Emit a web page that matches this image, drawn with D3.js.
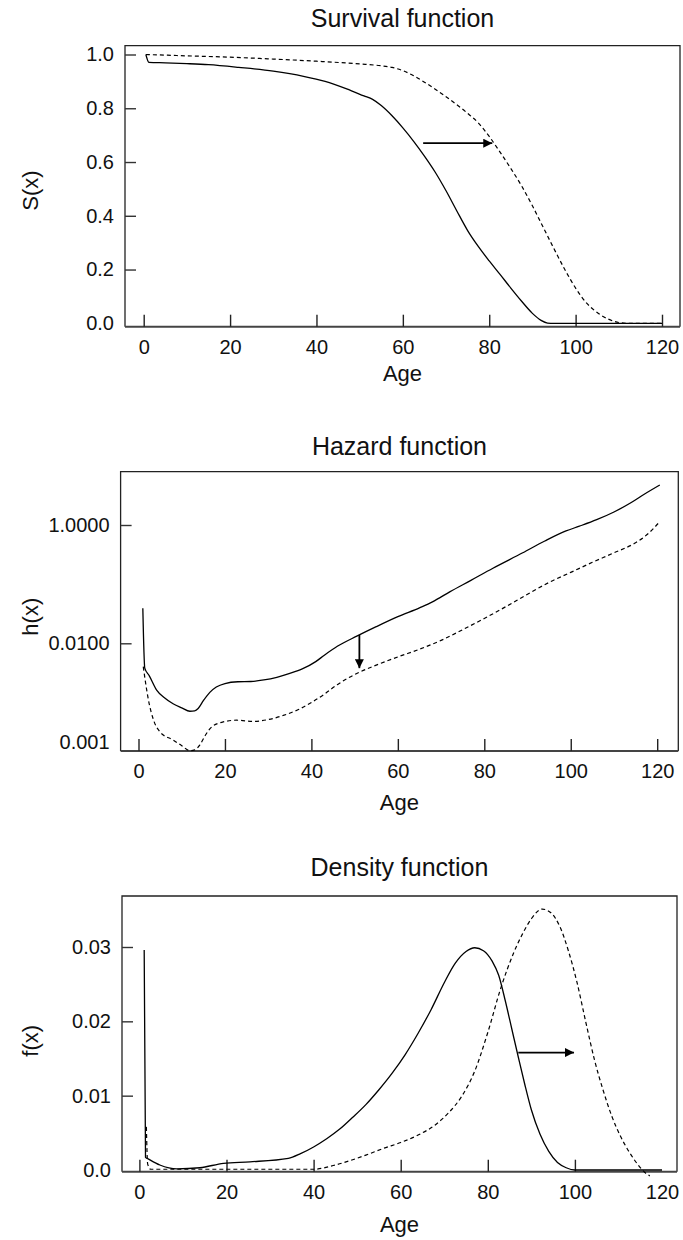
<!DOCTYPE html>
<html>
<head>
<meta charset="utf-8">
<script src="https://cdn.jsdelivr.net/npm/d3@7"></script>
<style>
  html, body { margin: 0; padding: 0; background: #fff; }
  svg { display: block; font-family: "Liberation Sans", Arial, Helvetica, sans-serif; }
</style>
</head>
<body>
<svg id="chart" width="683" height="1240"></svg>
<script>
// ---------------- data ----------------
const ageTicks = [0, 20, 40, 60, 80, 100, 120];
const ageTickLabels = ["0", "20", "40", "60", "80", "100", "120"];

// Survival function S(x): [age, S]
const survivalSolid = [[0.5,1.0],[1.2,0.971],[5,0.969],[10,0.966],[15,0.962],[22,0.952],[30,0.938],[37,0.919],[42,0.9],[47,0.872],[51,0.846],[53,0.833],[55,0.81],[57.5,0.772],[60,0.727],[62.5,0.677],[65,0.622],[67.5,0.562],[70,0.493],[72.5,0.418],[75,0.345],[77.5,0.285],[80,0.232],[82.5,0.182],[85,0.131],[87.5,0.082],[90,0.037],[92,0.011],[93.5,0.001],[95,0],[120,0]];
const survivalDashed = [[0.5,1.0],[10,0.995],[20,0.99],[30,0.983],[40,0.975],[50,0.965],[55,0.958],[57.5,0.952],[60,0.94],[62.5,0.921],[65,0.897],[67.5,0.871],[70,0.843],[72.5,0.813],[75,0.781],[77.5,0.745],[80,0.695],[82.5,0.637],[85,0.576],[87.5,0.511],[90,0.437],[92.5,0.357],[95,0.277],[97.5,0.2],[100,0.131],[102.5,0.076],[105,0.04],[107.5,0.016],[110,0.003],[112,0],[120,0]];
const survivalYTicks = [0, 0.2, 0.4, 0.6, 0.8, 1.0];
const survivalYLabels = ["0.0", "0.2", "0.4", "0.6", "0.8", "1.0"];
const survivalArrow = [[64.7, 0.67], [80.7, 0.67]];

// Hazard function h(x): [age, h]
const hazardSolid = [[1.0,0.0391],[1.45,0.0038],[2.5,0.00282],[4.2,0.00162],[6,0.0012],[8,0.00095],[10,0.00081],[11.9,0.00071],[13,0.00072],[13.8,0.00079],[15,0.00107],[16.5,0.00148],[18,0.00182],[20,0.00209],[23,0.00224],[26,0.00226],[29,0.0024],[32,0.00266],[35,0.00309],[38,0.00372],[41,0.0049],[43,0.0063],[46,0.0089],[50.5,0.0132],[55,0.0191],[60,0.0282],[65,0.0398],[68,0.0501],[72,0.0741],[76.8,0.115],[82,0.186],[88.9,0.339],[94,0.537],[98.9,0.794],[102,0.955],[106,1.23],[110,1.66],[114,2.4],[117,3.31],[120.6,4.74]];
const hazardDashed = [[1.1,0.00403],[2.3,0.0011],[3.5,0.0005],[5,0.000316],[8,0.000232],[10,0.000186],[11.9,0.000153],[13,0.000158],[14.2,0.000191],[15.5,0.000282],[17,0.000389],[19.6,0.000468],[22.7,0.000501],[26.6,0.000479],[30,0.000513],[33.5,0.000603],[37,0.000759],[40,0.001],[42.8,0.00135],[46,0.002],[50.5,0.00309],[55,0.00427],[60,0.00589],[65,0.00794],[70,0.0112],[75,0.017],[80,0.0263],[85,0.0417],[90,0.0676],[95,0.107],[100,0.158],[105,0.234],[110,0.339],[115,0.501],[118,0.724],[120.6,1.138]];
const hazardYTicks = [1, 0.01, 0.000217];
const hazardYLabels = ["1.0000", "0.0100", "0.001"];
const hazardArrow = [[51.1, 0.0138], [51.1, 0.0038]];

// Density function f(x): [age, f]
const densitySolid = [[1.1,0.0296],[1.4,0.0017],[2.0,0.0015],[4.7,0.00067],[8.6,0.00015],[13.9,0.0003],[19.3,0.0009],[25.4,0.0011],[34.2,0.00157],[37,0.0022],[40,0.0031],[43,0.0042],[46,0.0055],[49,0.0071],[52,0.0088],[55,0.0108],[58,0.013],[61,0.0155],[64,0.0184],[67,0.0216],[70,0.0252],[72.5,0.0278],[75,0.0294],[77,0.0299],[79,0.0295],[81,0.0281],[82.5,0.0262],[84,0.0228],[85.5,0.019],[87,0.0152],[88.5,0.0115],[90,0.0081],[92,0.0048],[94,0.0025],[96,0.001],[98,0.0003],[100,0],[120,0]];
const densityDashed = [[1.6,0.0058],[1.9,0.0008],[2.6,0.0001],[5,0.0001],[20,0.0001],[40,0.0001],[44.5,0.0006],[48,0.0012],[52,0.002],[56,0.0029],[60,0.0037],[64,0.0047],[68,0.0061],[71,0.0077],[74,0.0099],[77,0.0133],[80,0.0185],[83,0.0245],[86,0.0293],[88,0.0318],[90,0.0338],[92.5,0.0351],[94.5,0.0346],[96.5,0.0328],[98.5,0.0295],[100.5,0.0252],[102.5,0.0199],[104.5,0.0148],[106.5,0.0107],[108.5,0.0072],[110.5,0.0045],[112.5,0.0024],[114.5,0.0007],[116,-0.0003],[117.2,-0.0008]];
const densityYTicks = [0, 0.01, 0.02, 0.03];
const densityYLabels = ["0.0", "0.01", "0.02", "0.03"];
const densityXTickMarks = [0, 20, 40, 60, 80, 100];
const densityArrow = [[87, 0.0158], [99.8, 0.0158]];

// ---------------- drawing ----------------
const svg = d3.select("#chart");
const defs = svg.append("defs");
defs.append("marker")
  .attr("id", "head").attr("viewBox", "0 0 10 10")
  .attr("refX", 10).attr("refY", 5)
  .attr("markerWidth", 10).attr("markerHeight", 9)
  .attr("markerUnits", "userSpaceOnUse")
  .attr("orient", "auto")
  .append("path").attr("d", "M0,0 L10,5 L0,10 Z").attr("fill", "#000");

const panels = [
  {
    title: "Survival function", ylab: "S(x)",
    box: {l: 125, t: 45.7, r: 680, b: 326.7},
    x: d3.scaleLinear().domain([0, 120]).range([143.7, 662]),
    y: d3.scaleLinear().domain([0, 1]).range([323.3, 54.5]),
    yTicks: survivalYTicks, yLabels: survivalYLabels,
    xMarks: ageTicks,
    solid: survivalSolid, dashed: survivalDashed, arrow: survivalArrow,
    titleY: 27, ylabY: 190.5, ageOffset: 54
  },
  {
    title: "Hazard function", ylab: "h(x)",
    box: {l: 120.6, t: 471.7, r: 678.3, b: 751},
    x: d3.scaleLinear().domain([0, 120]).range([138.5, 657.2]),
    y: d3.scaleLog().domain([0.01, 1]).range([643.3, 525]),
    yTicks: hazardYTicks, yLabels: hazardYLabels,
    xMarks: ageTicks,
    solid: hazardSolid, dashed: hazardDashed, arrow: hazardArrow,
    titleY: 455, ylabY: 616.7, ageOffset: 59
  },
  {
    title: "Density function", ylab: "f(x)",
    box: {l: 122, t: 896, r: 677, b: 1171.7},
    x: d3.scaleLinear().domain([0, 120]).range([139.4, 662]),
    y: d3.scaleLinear().domain([0, 0.03]).range([1170, 947]),
    yTicks: densityYTicks, yLabels: densityYLabels,
    xMarks: densityXTickMarks,
    solid: densitySolid, dashed: densityDashed, arrow: densityArrow,
    titleY: 876, ylabY: 1040.8, ageOffset: 60
  }
];

panels.forEach(p => {
  const g = svg.append("g");
  const B = p.box;
  const cx = (B.l + B.r) / 2;

  g.append("text").attr("x", cx).attr("y", p.titleY)
    .attr("text-anchor", "middle").attr("font-size", 25).attr("fill", "#111")
    .text(p.title);

  g.append("path")
    .attr("d", `M${B.l},${B.b} L${B.l},${B.t} L${B.r},${B.t} L${B.r},${B.b}`)
    .attr("fill", "none").attr("stroke", "#222").attr("stroke-width", 1.3);
  g.append("line").attr("x1", B.l).attr("x2", B.r).attr("y1", B.b).attr("y2", B.b)
    .attr("stroke", "#444").attr("stroke-width", 2);

  const yAxis = d3.axisLeft(p.y)
    .tickValues(p.yTicks)
    .tickFormat((d, i) => p.yLabels[i])
    .tickSizeInner(-11).tickSizeOuter(0).tickPadding(11);
  const ya = g.append("g").attr("transform", `translate(${B.l},0)`).call(yAxis);
  ya.select(".domain").remove();
  ya.selectAll(".tick line")
    .attr("stroke", "#333").attr("stroke-width", 1.4)
    .attr("display", d => (p.y(d) > B.b - 12 ? "none" : null));
  ya.selectAll(".tick text").attr("font-size", 20).attr("fill", "#111")
    .attr("font-family", "Liberation Sans, Arial, sans-serif");

  const xAxis = d3.axisBottom(p.x)
    .tickValues(ageTicks)
    .tickFormat((d, i) => ageTickLabels[i])
    .tickSizeInner(-12).tickSizeOuter(0).tickPadding(13);
  const xa = g.append("g").attr("transform", `translate(0,${B.b})`).call(xAxis);
  xa.select(".domain").remove();
  xa.selectAll(".tick line")
    .attr("stroke", "#222").attr("stroke-width", 1.4)
    .attr("display", d => (p.xMarks.includes(d) ? null : "none"));
  xa.selectAll(".tick text").attr("font-size", 20).attr("fill", "#111")
    .attr("font-family", "Liberation Sans, Arial, sans-serif");

  g.append("text").attr("x", cx).attr("y", B.b + p.ageOffset)
    .attr("text-anchor", "middle").attr("font-size", 22).attr("fill", "#111")
    .text("Age");
  g.append("text")
    .attr("transform", `translate(38,${p.ylabY}) rotate(-90)`)
    .attr("text-anchor", "middle").attr("font-size", 22).attr("fill", "#111")
    .text(p.ylab);

  const line = d3.line().x(d => p.x(d[0])).y(d => p.y(d[1])).curve(d3.curveMonotoneX);
  g.append("path").datum(p.solid).attr("d", line)
    .attr("fill", "none").attr("stroke", "#000").attr("stroke-width", 1.3);
  g.append("path").datum(p.dashed).attr("d", line)
    .attr("fill", "none").attr("stroke", "#000").attr("stroke-width", 1.2)
    .attr("stroke-dasharray", "4,3");

  const a = p.arrow;
  g.append("line")
    .attr("x1", p.x(a[0][0])).attr("y1", p.y(a[0][1]))
    .attr("x2", p.x(a[1][0])).attr("y2", p.y(a[1][1]))
    .attr("stroke", "#000").attr("stroke-width", 1.8)
    .attr("marker-end", "url(#head)");
});
</script>
</body>
</html>
